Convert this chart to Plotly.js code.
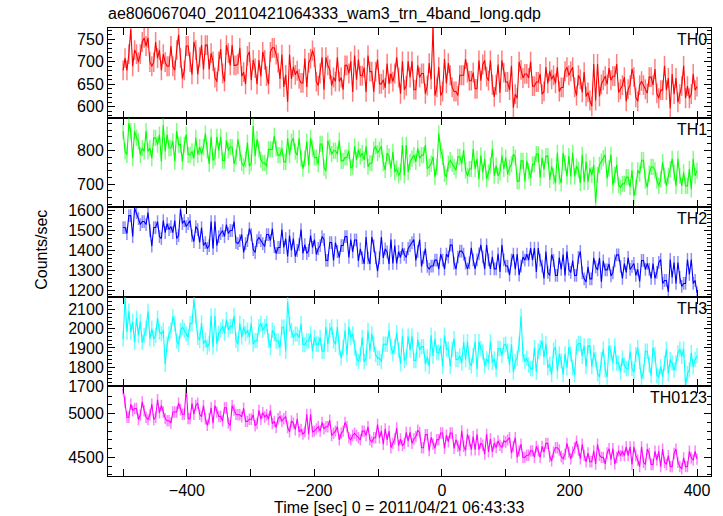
<!DOCTYPE html>
<html>
<head>
<meta charset="utf-8">
<script src="https://cdn.plot.ly/plotly-3.0.1.min.js"></script>
<style>html,body{margin:0;padding:0;background:#fff;}#chart{width:723px;height:516px;}</style>
</head>
<body>
<div id="chart"></div>
<script>
// ---- data (time bins every 3 s from -500 to 400) ----
const timeStart = -500;
const timeStep = 3;
const th0 = [
  681,708,681,717,772,690,726,717,699,717,744,753,735,753,699,690,699,744,708,726,
  681,717,699,690,690,735,690,681,726,760,708,663,681,735,735,699,672,744,726,672,
  710,737,683,737,737,683,719,701,665,656,701,728,674,656,737,719,692,737,692,692,
  695,731,668,677,650,713,722,659,704,686,650,704,668,722,704,668,650,722,731,731,
  716,698,662,716,644,671,611,716,662,689,671,680,662,653,653,707,644,698,707,725,
  710,656,647,674,710,638,710,692,683,647,665,656,710,656,665,638,692,692,674,701,
  633,714,660,705,669,669,687,633,714,678,678,633,678,705,651,651,660,642,696,651,
  674,656,674,710,665,629,701,638,647,701,665,701,638,638,692,665,674,674,629,647,
  697,661,775,625,643,688,625,634,706,652,697,670,643,634,634,625,670,670,670,706,
  676,658,658,676,640,640,703,658,694,703,667,658,703,649,622,649,694,631,703,676,
  655,655,637,691,598,628,619,700,682,664,673,673,664,700,646,646,655,655,673,628,
  634,688,652,679,661,670,652,688,634,643,643,679,688,670,679,688,643,625,670,661,
  632,677,623,632,614,601,695,614,695,623,650,659,668,650,686,659,668,668,695,632,
  639,648,666,612,639,648,684,666,621,612,648,657,648,639,630,666,666,648,684,630,
  619,637,637,691,637,664,596,673,628,664,610,628,646,691,619,646,619,628,673,637,
  645];
const th1 = [
  857,797,787,880,857,777,857,837,827,787,807,797,857,797,807,777,837,837,817,847,
  767,875,797,847,807,807,827,767,857,817,817,767,817,847,787,787,797,777,837,787,
  810,790,810,850,800,760,840,770,780,840,800,840,770,770,830,800,810,810,760,780,
  833,793,763,753,773,823,753,763,872,783,833,803,773,763,763,753,803,803,803,843,
  806,786,786,806,766,766,836,786,826,836,796,786,836,776,746,776,826,756,836,806,
  779,779,759,819,819,749,739,829,809,789,799,799,789,829,769,769,779,779,799,749,
  752,812,772,802,782,792,772,812,752,762,762,802,812,792,802,812,762,742,792,782,
  746,796,736,746,726,736,816,726,816,736,766,776,786,766,806,776,786,786,816,746,
  751,761,781,721,751,850,801,781,731,721,761,771,761,751,741,781,781,761,801,741,
  725,745,745,805,745,775,715,785,735,775,715,735,755,805,725,755,725,735,785,745,
  779,729,749,759,789,779,709,709,769,769,709,769,739,719,759,759,789,789,719,779,
  743,783,783,713,753,723,703,793,723,703,793,763,723,783,723,793,723,753,743,703,
  787,707,767,707,747,727,757,645,727,757,767,777,787,717,747,787,697,727,757,697,
  691,701,701,721,721,691,741,665,691,741,731,771,771,711,691,731,751,751,741,711,
  695,715,765,725,695,725,745,775,735,695,775,725,695,735,695,695,745,685,775,725,
  740];
const th2 = [
  1513,1513,1483,1573,1573,1468,1610,1588,1558,1528,1543,1543,1528,1588,1498,1420,1513,1513,1543,1468,
  1458,1548,1488,1533,1503,1518,1488,1548,1458,1473,1605,1533,1548,1518,1533,1548,1473,1443,1518,1503,
  1438,1513,1423,1438,1408,1423,1543,1408,1543,1423,1468,1483,1498,1468,1528,1483,1498,1498,1543,1438,
  1433,1448,1478,1388,1433,1448,1508,1478,1403,1388,1448,1463,1448,1433,1418,1478,1478,1448,1508,1418,
  1383,1413,1413,1503,1413,1458,1368,1473,1398,1458,1368,1398,1428,1503,1383,1428,1383,1398,1473,1413,
  1453,1378,1408,1423,1468,1453,1348,1348,1438,1438,1348,1438,1393,1363,1423,1423,1468,1468,1363,1453,
  1391,1451,1451,1346,1406,1361,1331,1466,1361,1331,1466,1421,1361,1295,1361,1466,1361,1406,1391,1331,
  1453,1333,1423,1333,1393,1363,1408,1378,1363,1408,1423,1438,1453,1348,1393,1453,1318,1363,1408,1318,
  1305,1320,1320,1350,1350,1305,1380,1350,1305,1380,1365,1425,1425,1335,1305,1365,1395,1395,1380,1335,
  1306,1336,1411,1351,1306,1351,1381,1426,1366,1306,1426,1351,1306,1366,1306,1306,1381,1291,1426,1351,
  1320,1320,1275,1350,1380,1305,1380,1275,1320,1365,1350,1380,1350,1410,1350,1410,1290,1410,1350,1320,
  1258,1393,1288,1273,1378,1348,1273,1273,1363,1303,1378,1273,1393,1303,1288,1348,1273,1273,1363,1393,
  1286,1256,1241,1316,1256,1256,1361,1316,1301,1361,1241,1346,1301,1301,1331,1271,1286,1346,1376,1376,
  1318,1258,1333,1288,1363,1303,1318,1333,1273,1303,1243,1348,1348,1303,1333,1303,1258,1333,1258,1288,
  1338,1353,1233,1248,1248,1190,1353,1263,1338,1233,1338,1263,1218,1233,1233,1353,1278,1353,1233,1248,
  1185];
const th3 = [
  1947,2160,1983,2091,1983,2037,1929,2055,1965,2037,1929,1965,2001,2091,1947,2001,1947,1965,2055,1983,
  1973,1991,1815,1919,1973,1991,2063,2027,1937,1919,1991,2009,1991,1973,1955,2027,2027,2150,2063,1955,
  1940,2030,1922,1940,1904,1922,2066,1904,2066,1922,1976,1994,2012,1976,2048,1994,2012,2012,2066,1940,
  1920,2028,1956,2010,1974,1992,1956,2028,1920,1938,1938,2010,2028,1992,2010,2028,1938,1902,1992,1974,
  1936,1936,1900,2008,2008,1882,2140,2026,1990,1954,1972,1972,1954,2026,1918,1918,1936,1936,1972,1882,
  1955,1919,1919,1955,1883,1883,2009,1919,1991,2009,1937,1919,2009,1901,1847,1901,1991,1865,2009,1955,
  1973,1901,1847,1829,1865,1955,1829,1847,1991,1883,1973,1919,1865,1847,1847,1829,1919,1919,1919,1991,
  1907,1871,1907,1979,1889,1817,1961,1835,1853,1961,1889,1961,1835,1835,1943,1889,1907,1907,1817,1853,
  1804,1966,1858,1948,1876,1876,1912,1804,1966,1894,1894,1804,1894,1948,1840,1840,1858,1822,1930,1840,
  1933,1825,1807,1861,1933,1789,1933,1897,1879,1807,1843,1825,1933,1825,1843,1789,1897,1897,1861,1915,
  1919,1883,1811,1919,1775,1829,1847,1919,2065,1865,1829,1847,1811,1793,1793,1901,1775,1883,1901,1937,
  1851,1923,1797,1815,1761,1887,1905,1779,1869,1833,1761,1869,1797,1905,1869,1797,1761,1905,1923,1923,
  1857,1911,1803,1911,1911,1803,1875,1839,1767,1749,1839,1893,1785,1749,1911,1875,1821,1911,1821,1821,
  1775,1847,1811,1793,1793,1883,1793,1775,1865,1901,1829,1739,1775,1883,1883,1811,1757,1901,1865,1757,
  1749,1803,1749,1821,1893,1767,1839,1821,1785,1821,1875,1893,1857,1893,1705,1767,1785,1875,1803,1839,
  1860];
const th0123 = [
  5280,5133,4958,4958,5108,5033,5058,5058,4933,4983,5133,5033,4958,4933,4983,5108,4933,4958,5158,5008,
  5093,5018,4943,4918,4918,4893,5018,5018,5018,5118,5043,4993,4993,5290,4943,4943,5118,4993,5093,5118,
  4991,4966,5091,4941,4866,4941,5066,4891,5091,5016,4966,4966,4916,5066,5066,4891,4866,5091,5041,4991,
  4986,4986,4961,5061,4911,4911,4936,4936,4986,4861,4886,5036,4936,5011,4961,4986,4936,5036,4886,4911,
  4841,4941,4966,4916,4941,4966,4841,4791,4916,4891,4816,4941,4791,4816,4766,4791,4991,4766,4991,4791,
  4800,4825,4850,4800,4900,4825,4850,4850,4925,4750,4775,4800,4850,4700,4775,4800,4900,4850,4725,4700,
  4750,4775,4750,4725,4700,4800,4800,4750,4850,4700,4675,4725,4725,4875,4725,4800,4650,4825,4700,4800,
  4610,4660,4710,4835,4635,4710,4635,4660,4785,4685,4785,4660,4710,4735,4810,4785,4610,4610,4760,4760,
  4578,4728,4653,4603,4703,4703,4778,4778,4603,4753,4678,4778,4778,4603,4703,4628,4578,4803,4628,4578,
  4763,4688,4588,4738,4588,4763,4588,4663,4638,4538,4763,4563,4713,4563,4663,4613,4688,4638,4613,4688,
  4675,4700,4725,4550,4625,4725,4500,4575,4650,4500,4500,4525,4525,4575,4575,4500,4625,4575,4500,4625,
  4560,4660,4660,4510,4460,4560,4610,4610,4585,4510,4485,4535,4660,4560,4485,4560,4610,4685,4585,4485,
  4650,4525,4450,4550,4450,4450,4575,4425,4650,4525,4500,4500,4425,4550,4600,4475,4600,4425,4500,4575,
  4520,4570,4520,4620,4520,4620,4420,4620,4520,4470,4395,4620,4445,4420,4595,4545,4420,4420,4570,4470,
  4570,4395,4595,4445,4420,4520,4395,4395,4545,4595,4445,4395,4370,4495,4395,4395,4570,4495,4470,4570,
  4480];
// typical 1-sigma errors per band
const errors = [22, 24, 32, 40, 65];
const bandNames = ['TH0', 'TH1', 'TH2', 'TH3', 'TH0123'];
const series = [th0, th1, th2, th3, th0123];
const xTickVals = [-500, -400, -300, -200, -100, 0, 100, 200, 300, 400];
const xTickText = ['', '\u2212400', '', '\u2212200', '', '0', '', '200', '', '400'];

// ---- styling ----
const colors = ['#ff0000', '#00ff00', '#0000ff', '#00ffff', '#ff00ff'];
const errColors = ['rgba(255,0,0,0.5)', 'rgba(0,255,0,0.5)', 'rgba(0,0,255,0.45)', 'rgba(0,255,255,0.55)', 'rgba(255,0,255,0.5)'];
const yRanges = [[576, 775], [632, 897], [1166, 1615], [1700, 2166], [4288, 5310]];
const yMajor = [50, 100, 100, 100, 500];
const yMinor = [10, 20, 20, 20, 100];
const xRange = [-523.7, 421.9];
const FONT = 'Liberation Sans, Arial, Helvetica, sans-serif';

const time = series[0].map((_, i) => timeStart + timeStep * i);

const traces = [];
const layout = {
  width: 723, height: 516,
  margin: {l: 108, r: 12, t: 28, b: 40},
  paper_bgcolor: '#fff', plot_bgcolor: '#fff',
  showlegend: false,
  font: {family: FONT, size: 16, color: '#000'},
  annotations: []
};

series.forEach((vals, k) => {
  const n = k + 1;
  const suf = n === 1 ? '' : String(n);
  traces.push({
    type: 'scatter', mode: 'lines',
    x: time, y: vals,
    xaxis: 'x' + suf, yaxis: 'y' + suf,
    line: {color: colors[k], width: 1.1},
    error_y: {type: 'constant', value: errors[k], color: errColors[k], thickness: 1.5, width: 0},
    cliponaxis: false,
    hoverinfo: 'skip'
  });
  const d0 = (4 - k) * 0.2, d1 = (5 - k) * 0.2;
  layout['yaxis' + suf] = {
    domain: [d0, d1], anchor: 'x' + suf,
    range: yRanges[k], tick0: 0, dtick: yMajor[k],
    ticks: 'inside', ticklen: 7, tickwidth: 1, tickcolor: '#000',
    minor: {dtick: yMinor[k], tick0: 0, ticks: 'inside', ticklen: 4, tickcolor: '#000', tickwidth: 1},
    showline: true, linecolor: '#000', linewidth: 1, mirror: 'ticks',
    showgrid: false, zeroline: false,
    tickfont: {family: FONT, size: 16, color: '#000'},
    fixedrange: true
  };
  layout['xaxis' + suf] = {
    anchor: 'y' + suf, domain: [0, 1],
    range: xRange,
    tickmode: 'array', tickvals: xTickVals, ticktext: xTickText,
    ticks: 'inside', ticklen: 7, tickwidth: 1, tickcolor: '#000',
    showticklabels: k === 4,
    showline: true, linecolor: '#000', linewidth: 1, mirror: 'ticks',
    showgrid: false, zeroline: false,
    tickfont: {family: FONT, size: 16, color: '#000'},
    fixedrange: true
  };
  layout.annotations.push({
    text: bandNames[k], xref: 'paper', yref: 'paper',
    x: 1, y: d1, xanchor: 'right', yanchor: 'top', xshift: -2, yshift: -1,
    showarrow: false, font: {family: FONT, size: 16, color: '#000'}
  });
});

layout.annotations.push({
  text: 'ae806067040_20110421064333_wam3_trn_4band_long.qdp',
  xref: 'paper', yref: 'paper', x: 0, y: 1, xanchor: 'left', yanchor: 'bottom',
  yshift: 3, xshift: -2,
  showarrow: false, font: {family: FONT, size: 16, color: '#000'}
});
layout.annotations.push({
  text: 'Counts/sec', xref: 'paper', yref: 'paper', x: 0, y: 0.505,
  xanchor: 'center', yanchor: 'middle', xshift: -66, textangle: -90,
  showarrow: false, font: {family: FONT, size: 16, color: '#000'}
});
layout.annotations.push({
  text: 'Time [sec] 0 = 2011/04/21 06:43:33', xref: 'paper', yref: 'paper',
  x: 0.482, y: 0, xanchor: 'center', yanchor: 'middle', yshift: -31,
  showarrow: false, font: {family: FONT, size: 16, color: '#000'}
});

Plotly.newPlot('chart', traces, layout, {displayModeBar: false, staticPlot: true});
</script>
</body>
</html>
